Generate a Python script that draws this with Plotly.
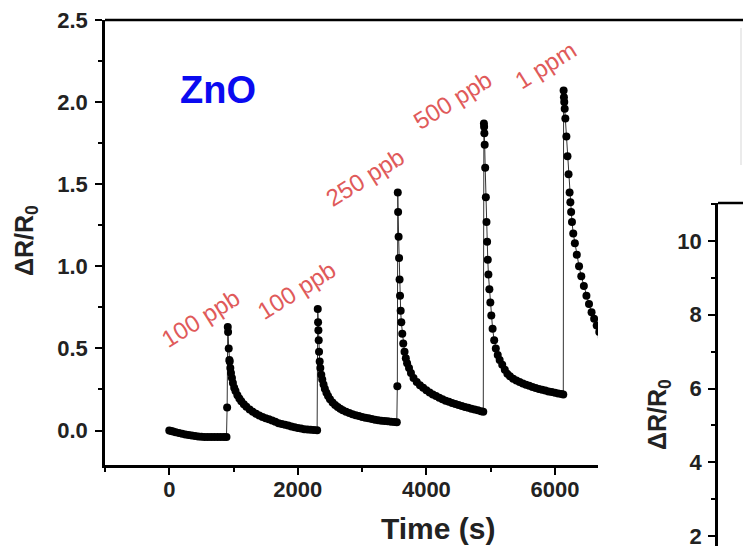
import plotly.graph_objects as go

# ---------------- data ----------------
# baseline + first 100 ppb pulse
t_seg1 = [0, 30, 60, 100, 150, 200, 250, 300, 350, 400, 450, 500, 550, 600, 650, 700, 750, 800, 850, 890,
          900, 910, 915, 925, 935, 940, 950, 960, 975, 990, 1010, 1030, 1060, 1090, 1120, 1160, 1200, 1250,
          1300, 1350, 1400, 1450, 1500, 1550, 1600, 1650, 1700, 1750, 1800, 1850, 1900, 1950, 2000, 2050,
          2100, 2150, 2200, 2250, 2300]
r_seg1 = [0.0, -0.003, -0.006, -0.01, -0.015, -0.02, -0.024, -0.028, -0.031, -0.034, -0.036, -0.038, -0.039,
          -0.04, -0.04, -0.04, -0.04, -0.04, -0.04, -0.04,
          0.14, 0.63, 0.60, 0.50, 0.43, 0.42, 0.38, 0.35, 0.32, 0.29, 0.26, 0.24, 0.215, 0.195, 0.178, 0.16,
          0.145, 0.128, 0.114, 0.102, 0.092, 0.083, 0.075, 0.068, 0.061, 0.053, 0.045, 0.040, 0.035, 0.030,
          0.025, 0.020, 0.015, 0.012, 0.008, 0.006, 0.004, 0.003, 0.002]

# second 100 ppb pulse
t_seg2 = [2310, 2315, 2320, 2325, 2330, 2340, 2350, 2365, 2380, 2400, 2420, 2445, 2470, 2500, 2540, 2580,
          2620, 2660, 2700, 2750, 2800, 2850, 2900, 2950, 3000, 3050, 3100, 3150, 3200, 3250, 3300, 3350,
          3400, 3450, 3500, 3540]
r_seg2 = [0.74, 0.66, 0.61, 0.55, 0.48, 0.42, 0.38, 0.34, 0.31, 0.28, 0.255, 0.23, 0.21, 0.19, 0.17, 0.155,
          0.143, 0.133, 0.124, 0.114, 0.106, 0.099, 0.093, 0.088, 0.083, 0.078, 0.074, 0.070, 0.066, 0.063,
          0.060, 0.058, 0.056, 0.054, 0.052, 0.050]

# 250 ppb pulse
t_seg3 = [3548, 3555, 3560, 3568, 3575, 3583, 3590, 3600, 3610, 3625, 3640, 3660, 3680, 3700, 3730, 3760,
          3800, 3850, 3900, 3950, 4000, 4050, 4100, 4150, 4200, 4250, 4300, 4350, 4400, 4450, 4500, 4550,
          4600, 4650, 4700, 4750, 4800, 4850, 4885]
r_seg3 = [0.27, 1.45, 1.33, 1.18, 1.05, 0.92, 0.82, 0.73, 0.66, 0.59, 0.53, 0.48, 0.44, 0.41, 0.38, 0.35,
          0.32, 0.295, 0.275, 0.26, 0.245, 0.232, 0.22, 0.21, 0.20, 0.19, 0.182, 0.175, 0.168, 0.161, 0.155,
          0.149, 0.143, 0.138, 0.133, 0.128, 0.123, 0.118, 0.115]

# 500 ppb pulse
t_seg4 = [4895, 4898, 4902, 4907, 4915, 4925, 4935, 4945, 4955, 4965, 4980, 4995, 5010, 5030, 5055, 5080,
          5110, 5140, 5180, 5220, 5260, 5300, 5350, 5400, 5450, 5500, 5550, 5600, 5650, 5700, 5750, 5800,
          5850, 5900, 5950, 6000, 6050, 6100, 6130]
r_seg4 = [1.87, 1.85, 1.81, 1.74, 1.60, 1.42, 1.27, 1.15, 1.04, 0.95, 0.86, 0.78, 0.70, 0.62, 0.55, 0.50,
          0.46, 0.43, 0.40, 0.37, 0.345, 0.33, 0.315, 0.305, 0.295, 0.287, 0.279, 0.272, 0.265, 0.259, 0.253,
          0.248, 0.243, 0.238, 0.234, 0.230, 0.226, 0.222, 0.220]

# 1 ppm pulse
t_seg5 = [6135, 6140, 6145, 6152, 6162, 6178, 6195, 6212, 6228, 6240, 6252, 6265, 6285, 6310, 6340, 6375,
          6410, 6450, 6490, 6530, 6570, 6610, 6650, 6690, 6730, 6770]
r_seg5 = [2.07, 2.03, 2.00, 1.96, 1.90, 1.79, 1.67, 1.56, 1.45, 1.39, 1.33, 1.27, 1.20, 1.14, 1.07, 1.00,
          0.94, 0.88, 0.82, 0.77, 0.72, 0.68, 0.64, 0.60, 0.57, 0.54]

conc_labels = ["100 ppb", "100 ppb", "250 ppb", "500 ppb", "1 ppm"]
x_ticks = [0, 2000, 4000, 6000]
y_ticks = [0.0, 0.5, 1.0, 1.5, 2.0, 2.5]
y2_ticks = [2, 4, 6, 8, 10]

time_all = t_seg1 + t_seg2 + t_seg3 + t_seg4 + t_seg5
resp_all = r_seg1 + r_seg2 + r_seg3 + r_seg4 + r_seg5

# ---------------- layout helpers ----------------
W, H = 743, 546
def px(x):
    return x / W
def py(y):
    return 1 - y / H

FONT = "Liberation Sans, Arial, sans-serif"

fig = go.Figure()
fig.add_trace(go.Scatter(
    x=time_all, y=resp_all, mode="lines+markers",
    line=dict(color="#333333", width=1),
    marker=dict(color="black", size=8, line=dict(width=0)),
    showlegend=False, xaxis="x", yaxis="y",
))
# second (partially visible) panel: axis only
fig.add_trace(go.Scatter(x=[0.5], y=[None], mode="markers", showlegend=False,
                         xaxis="x2", yaxis="y2", hoverinfo="skip"))

axis_common = dict(
    showline=True, linecolor="black", linewidth=2.5,
    ticks="outside", ticklen=7, tickwidth=2, tickcolor="black",
    showgrid=False, zeroline=False, automargin=False,
    ticklabeloverflow="allow",
    tickfont=dict(family=FONT, size=22, color="#222222", weight="bold"),
)

fig.update_layout(
    width=W, height=H,
    margin=dict(l=0, r=0, t=0, b=0, pad=0, autoexpand=False),
    paper_bgcolor="white", plot_bgcolor="white",
    xaxis=dict(domain=[px(105), px(598)], range=[-1000, 6670], anchor="y",
               tickvals=x_ticks, ticktext=[str(v) for v in x_ticks], ticklabelstandoff=-4,
               minor=dict(dtick=1000, tick0=0, ticks="outside", ticklen=4, tickwidth=2, tickcolor="black"),
               **axis_common),
    yaxis=dict(domain=[py(465), py(20)], range=[-0.21, 2.5], anchor="x",
               tickvals=y_ticks, ticktext=[f"{v:.1f}" for v in y_ticks], ticklabelstandoff=3,
               minor=dict(dtick=0.25, tick0=0, ticks="outside", ticklen=4, tickwidth=2, tickcolor="black"),
               **axis_common),
    xaxis2=dict(domain=[px(718), 1], range=[0, 1], anchor="y2", visible=False),
    yaxis2=dict(domain=[0, py(203)], range=[1.73, 11.03], anchor="x2",
                tickvals=y2_ticks, ticktext=[str(v) for v in y2_ticks], ticklabelstandoff=2,
                minor=dict(dtick=1, tick0=0, ticks="outside", ticklen=4, tickwidth=2, tickcolor="black"),
                **axis_common),
)

shapes = [
    dict(type="line", xref="paper", yref="paper", x0=px(105), x1=1, y0=py(20), y1=py(20),
         line=dict(color="black", width=2.5)),
    dict(type="line", xref="paper", yref="paper", x0=px(718), x1=1, y0=py(203), y1=py(203),
         line=dict(color="black", width=2.5)),
    dict(type="line", xref="paper", yref="paper", x0=px(741), x1=px(741), y0=py(28), y1=py(165),
         line=dict(color="#e4e4e4", width=1.5)),
]
fig.update_layout(shapes=shapes)

label_pos = [(200, 318), (296, 290), (365, 178), (452, 100), (545, 65)]
annotations = []
for txt, (lx, ly) in zip(conc_labels, label_pos):
    annotations.append(dict(text=txt, x=px(lx), y=py(ly), xref="paper", yref="paper",
                            showarrow=False, textangle=-32, xanchor="center", yanchor="middle",
                            font=dict(family=FONT, size=24, color="#e05a5a")))
annotations += [
    dict(text="ZnO", x=px(218), y=py(90), xref="paper", yref="paper", showarrow=False,
         xanchor="center", yanchor="middle",
         font=dict(family=FONT, size=38, color="#0a0af0", weight="bold")),
    dict(text="Time (s)", x=px(438), y=py(528), xref="paper", yref="paper", showarrow=False,
         xanchor="center", yanchor="middle",
         font=dict(family=FONT, size=30, color="#222222", weight="bold")),
    dict(text="ΔR/R<sub>0</sub>", x=px(26), y=py(240), xref="paper", yref="paper", showarrow=False,
         textangle=-90, xanchor="center", yanchor="middle",
         font=dict(family=FONT, size=25, color="#222222", weight="bold")),
    dict(text="ΔR/R<sub>0</sub>", x=px(659), y=py(415), xref="paper", yref="paper", showarrow=False,
         textangle=-90, xanchor="center", yanchor="middle",
         font=dict(family=FONT, size=25, color="#222222", weight="bold")),
]
fig.update_layout(annotations=annotations)

fig.write_html("out.html")
